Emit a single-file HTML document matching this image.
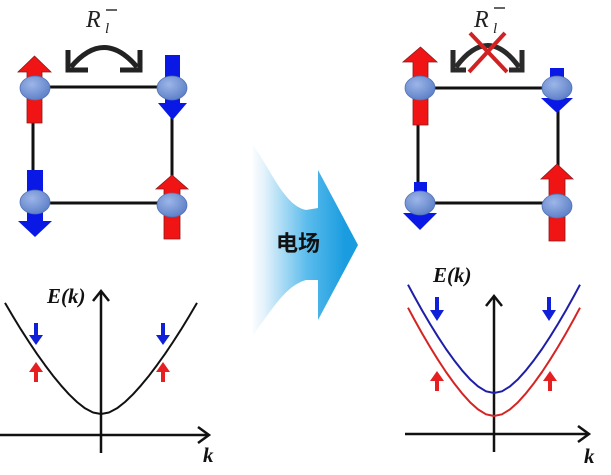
<!DOCTYPE html>
<html>
<head>
<meta charset="utf-8">
<style>
html,body{margin:0;padding:0;background:#fff;}
svg{display:block;}
</style>
</head>
<body>
<svg width="611" height="475" viewBox="0 0 611 475" xmlns="http://www.w3.org/2000/svg">
<defs>
  <radialGradient id="node" cx="0.4" cy="0.35" r="0.7">
    <stop offset="0" stop-color="#9db6e8"/>
    <stop offset="1" stop-color="#5b7ec6"/>
  </radialGradient>
  <linearGradient id="bigarrow" gradientUnits="userSpaceOnUse" x1="250" y1="0" x2="345" y2="0">
    <stop offset="0" stop-color="#ffffff"/>
    <stop offset="0.15" stop-color="#e4f2fb"/>
    <stop offset="0.6" stop-color="#5bbcec"/>
    <stop offset="1" stop-color="#1a9ce0"/>
  </linearGradient>
</defs>

<!-- ========== LEFT LATTICE ========== -->
<g stroke="#111" stroke-width="3" fill="none">
  <line x1="35" y1="87" x2="172" y2="87"/>
  <line x1="35" y1="203" x2="172" y2="203"/>
  <line x1="33" y1="88" x2="33" y2="202"/>
  <line x1="172" y1="88" x2="172" y2="205"/>
</g>
<polygon points="34.5,56 51,72 42,72 42,123 27,123 27,72 18,72" fill="#f01414" stroke="#8a1a1a" stroke-width="0.8"/>
<polygon points="165,55 180,55 180,103 187,103 172.5,120 158,103 165,103" fill="#0a18e6"/>
<polygon points="27,170 43,170 43,221 52,221 35,237 18,221 27,221" fill="#0a18e6"/>
<polygon points="172,175 188,189 180,189 180,239 164,239 164,189 156,189" fill="#f01414" stroke="#8a1a1a" stroke-width="0.8"/>
<g fill="url(#node)" stroke="#5272b4" stroke-width="0.8">
  <ellipse cx="35" cy="88" rx="15" ry="12"/>
  <ellipse cx="172" cy="88" rx="15" ry="12"/>
  <ellipse cx="35" cy="202" rx="15" ry="12"/>
  <ellipse cx="172" cy="205" rx="15" ry="12"/>
</g>
<g stroke="#222" stroke-width="5" fill="none" stroke-linejoin="miter">
  <path d="M71,67 Q104,28 137,67"/>
  <polyline points="68,50 68,70 88,70"/>
  <polyline points="140,50 140,70 120,70"/>
</g>
<text x="86" y="27" font-family="Liberation Serif, serif" font-style="italic" font-size="24" fill="#222">R</text>
<text x="105" y="33" font-family="Liberation Serif, serif" font-style="italic" font-size="15" fill="#222">l</text>
<line x1="106" y1="10" x2="117" y2="10" stroke="#222" stroke-width="1.4"/>

<!-- ========== RIGHT LATTICE ========== -->
<g stroke="#111" stroke-width="3" fill="none">
  <line x1="420" y1="88" x2="557" y2="88"/>
  <line x1="420" y1="203" x2="557" y2="203"/>
  <line x1="418" y1="88" x2="418" y2="203"/>
  <line x1="558" y1="88" x2="558" y2="206"/>
</g>
<polygon points="420.5,47 437,62 428,62 428,125 413,125 413,62 403,62" fill="#f01414" stroke="#8a1a1a" stroke-width="0.8"/>
<rect x="550" y="68" width="14" height="14" fill="#0a18e6"/>
<polygon points="541,98 573,98 557,113" fill="#0a18e6"/>
<rect x="414" y="182" width="13" height="12" fill="#0a18e6"/>
<polygon points="403,213 437,213 420,230" fill="#0a18e6"/>
<polygon points="557,164 573,179 565,179 565,241 549,241 549,179 541,179" fill="#f01414" stroke="#8a1a1a" stroke-width="0.8"/>
<g fill="url(#node)" stroke="#5272b4" stroke-width="0.8">
  <ellipse cx="420" cy="88" rx="15" ry="12"/>
  <ellipse cx="557" cy="88" rx="15" ry="12"/>
  <ellipse cx="420" cy="203" rx="15" ry="12"/>
  <ellipse cx="557" cy="206" rx="15" ry="12"/>
</g>
<g stroke="#2a2a2a" stroke-width="5" fill="none">
  <path d="M456,67 Q488,24 519,67"/>
  <polyline points="453,50 453,70 466,70"/>
  <polyline points="522,50 522,70 509,70"/>
</g>
<g stroke="#d02222" stroke-width="4" stroke-linecap="butt">
  <line x1="470" y1="33" x2="507" y2="72"/>
  <line x1="505" y1="33" x2="469" y2="72"/>
</g>
<text x="474" y="27" font-family="Liberation Serif, serif" font-style="italic" font-size="24" fill="#222">R</text>
<text x="493" y="33" font-family="Liberation Serif, serif" font-style="italic" font-size="15" fill="#222">l</text>
<line x1="494" y1="8" x2="505" y2="8" stroke="#222" stroke-width="1.4"/>

<!-- ========== BIG ARROW ========== -->
<path d="M253,145 C272,172 285,206 306,210 L318,208 L318,170 L358,245 L318,320 L318,280 L306,280 C285,286 272,310 253,335 Z" fill="url(#bigarrow)"/>
<text x="298" y="251" text-anchor="middle" font-family="Liberation Sans, 'Noto Sans CJK SC', sans-serif" font-weight="bold" font-size="22" fill="#111">电场</text>

<!-- ========== LEFT GRAPH ========== -->
<g stroke="#111" stroke-width="2.5" fill="none">
  <line x1="101" y1="453" x2="101" y2="291"/>
  <polyline points="93,301 101,291 109,301"/>
  <line x1="0" y1="435" x2="209" y2="435"/>
  <polyline points="198,427 209,435 198,443"/>
</g>
<polyline points="5,302.9 13,316.5 21,329.6 29,342 37,353.9 45,365.1 53,375.7 61,385.4 69,394.3 77,402 85,408.3 93,412.5 101,414 109,412.5 117,408.3 125,402 133,394.3 141,385.4 149,375.7 157,365.1 165,353.9 173,342 181,329.6 189,316.5 197,302.9" fill="none" stroke="#111" stroke-width="2" stroke-linejoin="round"/>
<g fill="#1020d8">
  <polygon points="34,323 38,323 38,335 43,335 36,345 29,335 34,335"/>
  <polygon points="161,323 165,323 165,335 170,335 163,345 156,335 161,335"/>
</g>
<g fill="#e62020">
  <polygon points="36,362 43,372 38,372 38,382 34,382 34,372 29,372"/>
  <polygon points="163,362 170,372 165,372 165,382 161,382 161,372 156,372"/>
</g>
<text x="47" y="303" font-family="Liberation Serif, serif" font-style="italic" font-weight="bold" font-size="21" fill="#111">E(k)</text>
<text x="203" y="462" font-family="Liberation Serif, serif" font-style="italic" font-weight="bold" font-size="21" fill="#111">k</text>

<!-- ========== RIGHT GRAPH ========== -->
<g stroke="#111" stroke-width="2.5" fill="none">
  <line x1="494" y1="452" x2="494" y2="296"/>
  <polyline points="486,306 494,296 502,306"/>
  <line x1="405" y1="434" x2="589" y2="434"/>
  <polyline points="578,426 589,434 578,442"/>
</g>
<polyline points="408,284.7 414,295.9 422,310.2 430,323.9 438,336.8 446,349 454,360.1 462,370.3 470,379.2 478,386.4 486,391.3 494,393 502,391.3 510,386.4 518,379.2 526,370.3 534,360.1 542,349 550,336.8 558,323.9 566,310.2 574,295.9 580,284.7" fill="none" stroke="#1e1ea8" stroke-width="2" stroke-linejoin="round"/>
<polyline points="408,307.7 414,318.9 422,333.2 430,346.9 438,359.8 446,372 454,383.1 462,393.3 470,402.2 478,409.4 486,414.3 494,416 502,414.3 510,409.4 518,402.2 526,393.3 534,383.1 542,372 550,359.8 558,346.9 566,333.2 574,318.9 580,307.7" fill="none" stroke="#d42424" stroke-width="2" stroke-linejoin="round"/>
<g fill="#1020d8">
  <polygon points="435,297 439,297 439,310 444,310 437,321 430,310 435,310"/>
  <polygon points="547,297 551,297 551,310 556,310 549,321 542,310 547,310"/>
</g>
<g fill="#e62020">
  <polygon points="437,371 444,381 439,381 439,391 435,391 435,381 430,381"/>
  <polygon points="550,371 557,381 552,381 552,391 548,391 548,381 543,381"/>
</g>
<text x="433" y="282" font-family="Liberation Serif, serif" font-style="italic" font-weight="bold" font-size="21" fill="#111">E(k)</text>
<text x="584" y="463" font-family="Liberation Serif, serif" font-style="italic" font-weight="bold" font-size="21" fill="#111">k</text>
</svg>
</body>
</html>
